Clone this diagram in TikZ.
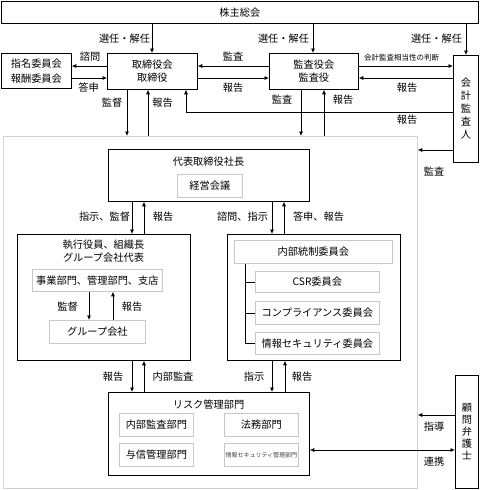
\documentclass[tikz,border=0pt]{standalone}
\usepackage{fontspec}
\setmainfont{Noto Sans CJK JP}
\usetikzlibrary{arrows.meta}
\begin{document}
\begin{tikzpicture}[x=1pt,y=-1pt,
  every node/.style={font=\fontsize{10.2}{13}\selectfont, inner sep=0pt, align=center},
  bx/.style={draw=black, line width=0.75pt, anchor=north west},
  ib/.style={draw=black!22, line width=0.75pt, anchor=north west, fill=white},
  rg/.style={draw=black!18, line width=0.75pt, anchor=north west},
  arr/.style={line width=0.75pt, -{Latex[length=4.5pt,width=4pt]}},
  darr/.style={line width=0.75pt, {Latex[length=4.5pt,width=4pt]}-{Latex[length=4.5pt,width=4pt]}},
  tree/.style={line width=0.75pt},
  sm/.style={font=\fontsize{7.5}{9}\selectfont},
  tiny/.style={font=\fontsize{6}{7}\selectfont, text=black!75}]
\useasboundingbox (0,0) rectangle (480,490);

% top level boxes
\node[bx, minimum width=477pt, minimum height=22pt] (kabu) at (1,1) {株主総会};
\node[bx, minimum width=70pt, minimum height=35pt, font=\fontsize{10.2}{15}\selectfont] (shimei) at (1,53) {指名委員会\\報酬委員会};
\node[bx, minimum width=90pt, minimum height=36pt] (tori) at (107,53) {取締役会\\取締役};
\node[bx, minimum width=89pt, minimum height=36pt] (kansa) at (269,53) {監査役会\\監査役};
\node[bx, minimum width=25pt, minimum height=107pt] (kaikei) at (453,55) {会\\計\\監\\査\\人};
\node[bx, minimum width=23pt, minimum height=113pt, font=\fontsize{10.2}{12}\selectfont] (komon) at (455,375) {顧\\問\\弁\\護\\士};

% company region
\node[rg, minimum width=414pt, minimum height=352pt] (region) at (3,136) {};

% president
\node[bx, minimum width=201pt, minimum height=52pt] (shacho) at (108,149) {};
\node (shachot) at (208.5,162) {代表取締役社長};
\node[ib, minimum width=65pt, minimum height=23pt] (keiei) at (177,174) {経営会議};

% executive
\node[bx, minimum width=173pt, minimum height=126pt] (shikko) at (17,234) {};
\node (shikkot) at (103.5,251.5) {執行役員、組織長\\グループ会社代表};
\node[ib, minimum width=130pt, minimum height=22pt] (jigyo) at (32,269) {事業部門、管理部門、支店};
\node[ib, minimum width=96pt, minimum height=23pt] (group) at (49,320) {グループ会社};

% internal control
\node[bx, minimum width=173pt, minimum height=126pt] (naibu) at (227,234) {};
\node[ib, minimum width=158pt, minimum height=23pt] (naibui) at (234,240) {内部統制委員会};
\node[ib, minimum width=124pt, minimum height=21pt] (csr) at (255,271) {CSR委員会};
\node[ib, minimum width=124pt, minimum height=23pt] (comp) at (255,301) {コンプライアンス委員会};
\node[ib, minimum width=124pt, minimum height=22pt] (joho) at (255,332) {情報セキュリティ委員会};
\draw[tree] (245,0 |- naibui.south) -- (245,0 |- joho.west) -- (joho.west);
\draw[tree] (245,0 |- csr.west) -- (csr.west);
\draw[tree] (245,0 |- comp.west) -- (comp.west);

% risk
\node[bx, minimum width=201pt, minimum height=83pt] (risk) at (108,392) {};
\node (riskt) at (208.5,404.5) {リスク管理部門};
\node[ib, minimum width=74pt, minimum height=23pt] (naikan) at (119,413) {内部監査部門};
\node[ib, minimum width=74pt, minimum height=23pt] (homu) at (224,413) {法務部門};
\node[ib, minimum width=74pt, minimum height=23pt] (yoshin) at (119,443) {与信管理部門};
\node[ib, minimum width=74pt, minimum height=23pt, tiny] (johokanri) at (224,443) {情報セキュリティ管理部門};

% arrows from shareholders
\draw[arr] (152,0 |- kabu.south) -- (152,0 |- tori.north);
\node (l1) at (124.5,39) {選任・解任};
\draw[arr] (313,0 |- kabu.south) -- (313,0 |- kansa.north);
\node (l2) at (283.5,39) {選任・解任};
\draw[arr] (466,0 |- kabu.south) -- (466,0 |- kaikei.north);
\node (l3) at (436.5,39) {選任・解任};

% board <-> committees
\draw[arr] (tori.west |- 0,66) -- (shimei.east |- 0,66);
\node (l4) at (90,57) {諮問};
\draw[arr] (shimei.east |- 0,78) -- (tori.west |- 0,78);
\node (l5) at (88.5,88) {答申};

% auditors <-> board
\draw[arr] (kansa.west |- 0,66) -- (tori.east |- 0,66);
\node (l6) at (233,57) {監査};
\draw[arr] (tori.east |- 0,78) -- (kansa.west |- 0,78);
\node (l7) at (233,88) {報告};

% auditors <-> accounting auditor
\draw[arr] (kansa.east |- 0,66) -- (kaikei.west |- 0,66);
\node[sm] (l8) at (401.5,57.5) {会計監査相当性の判断};
\draw[arr] (kaikei.west |- 0,78) -- (kansa.east |- 0,78);
\node (l9) at (407,87.5) {報告};
\draw[arr] (kaikei.west |- 0,112) -| (tori.south -| 186,0);
\node (l10) at (407,120) {報告};

% board / auditors to region
\draw[arr] (127,0 |- tori.south) -- (127,0 |- region.north);
\node (l11) at (112,102.5) {監督};
\draw[arr] (148,0 |- region.north) -- (148,0 |- tori.south);
\node (l12) at (162.5,102.5) {報告};
\draw[arr] (301,0 |- kansa.south) -- (301,0 |- region.north);
\node (l13) at (282,100) {監査};
\draw[arr] (324,0 |- region.north) -- (324,0 |- kansa.south);
\node (l14) at (343,100) {報告};
\draw[arr] (kaikei.west |- 0,150) -- (region.east |- 0,150);
\node (l15) at (434,172) {監査};

% president <-> executive / internal control
\draw[arr] (132,0 |- shacho.south) -- (132,0 |- shikko.north);
\node (l16) at (104.5,217) {指示、監督};
\draw[arr] (144,0 |- shikko.north) -- (144,0 |- shacho.south);
\node (l17) at (163,217) {報告};
\draw[arr] (272,0 |- shacho.south) -- (272,0 |- naibu.north);
\node (l18) at (242.5,217) {諮問、指示};
\draw[arr] (284,0 |- naibu.north) -- (284,0 |- shacho.south);
\node (l19) at (318.5,217) {答申、報告};

% inside executive
\draw[arr] (89,0 |- jigyo.south) -- (89,0 |- group.north);
\node (l20) at (67.5,307) {監督};
\draw[arr] (113,0 |- group.north) -- (113,0 |- jigyo.south);
\node (l21) at (132,307) {報告};

% executive / internal control <-> risk
\draw[arr] (132,0 |- shikko.south) -- (132,0 |- risk.north);
\node (l22) at (113,377) {報告};
\draw[arr] (144,0 |- risk.north) -- (144,0 |- shikko.south);
\node (l23) at (173,377) {内部監査};
\draw[arr] (272,0 |- naibu.south) -- (272,0 |- risk.north);
\node (l24) at (254,376.5) {指示};
\draw[arr] (285,0 |- risk.north) -- (285,0 |- naibu.south);
\node (l25) at (302,376.5) {報告};

% lawyer
\draw[arr] (komon.west |- 0,415) -- (region.east |- 0,415);
\node (l26) at (434,427) {指導};
\draw[darr] (risk.east |- 0,450) -- (komon.west |- 0,450);
\node (l27) at (434,462) {連携};
\end{tikzpicture}
\end{document}
